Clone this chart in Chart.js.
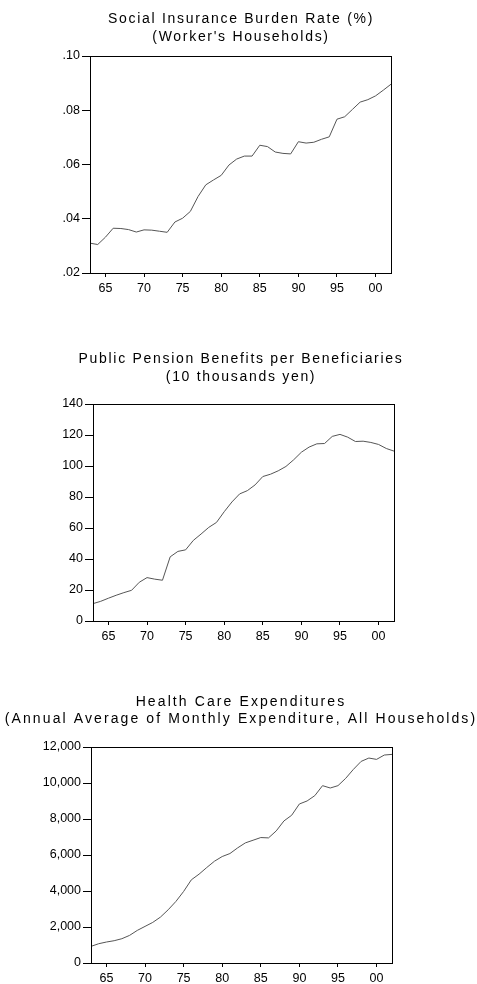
<!DOCTYPE html>
<html>
<head>
<meta charset="utf-8">
<script src="https://cdn.jsdelivr.net/npm/chart.js@4.4.1/dist/chart.umd.min.js"></script>
<style>
  html, body { margin: 0; padding: 0; background: #fff; }
  body { width: 477px; height: 984px; position: relative; overflow: hidden; }
  .panel { position: absolute; left: 0; width: 477px; }
  .panel canvas { display: block; }
</style>
</head>
<body>
<div class="panel" style="top:0px"><canvas id="chartBurden" width="477" height="300"></canvas></div>
<div class="panel" style="top:340px"><canvas id="chartPension" width="477" height="308"></canvas></div>
<div class="panel" style="top:680px"><canvas id="chartHealth" width="477" height="304"></canvas></div>
<script>
(function () {
    // ---------- data ----------
    const years = [1963, 1964, 1965, 1966, 1967, 1968, 1969, 1970, 1971, 1972,
                   1973, 1974, 1975, 1976, 1977, 1978, 1979, 1980, 1981, 1982,
                   1983, 1984, 1985, 1986, 1987, 1988, 1989, 1990, 1991, 1992,
                   1993, 1994, 1995, 1996, 1997, 1998, 1999, 2000, 2001, 2002];
    const yearTicks = [1965, 1970, 1975, 1980, 1985, 1990, 1995, 2000];

    const burdenRate = [.0310, .0305, .0332, .0365, .0364, .0360, .0351, .0359, .0358, .0354,
                        .0350, .0388, .0402, .0427, .0482, .0525, .0543, .0560, .0598, .0620,
                        .0631, .0631, .0671, .0666, .0646, .0641, .0639, .0684, .0679, .0682,
                        .0693, .0702, .0767, .0776, .0803, .0830, .0839, .0853, .0874, .0896];
    const burdenTicks = [0.02, 0.04, 0.06, 0.08, 0.10];

    const pensionBenefit = [11.2, 12.7, 14.7, 16.6, 18.3, 19.8, 25.0, 28.0, 27.0, 26.3,
                            41.4, 44.9, 45.9, 52.0, 56.1, 60.4, 63.6, 70.5, 76.8, 82.0,
                            84.1, 87.8, 93.2, 94.7, 96.9, 99.7, 104.0, 108.9, 112.2, 114.3,
                            114.5, 119.1, 120.4, 118.6, 115.8, 116.0, 115.2, 113.9, 111.3, 109.6];
    const pensionTicks = [0, 20, 40, 60, 80, 100, 120, 140];

    const healthExpend = [924, 1072, 1165, 1238, 1349, 1534, 1811, 2033, 2255, 2551,
                          2957, 3420, 3974, 4621, 4935, 5305, 5656, 5915, 6081, 6396,
                          6673, 6821, 6969, 6950, 7338, 7893, 8207, 8835, 9002, 9298,
                          9852, 9723, 9852, 10259, 10758, 11201, 11386, 11312, 11553, 11590];
    const healthTicks = [0, 2000, 4000, 6000, 8000, 10000, 12000];

    const FONT = "'Liberation Sans', Arial, sans-serif";

    // two-line title drawn with letter spacing, plus a frame round the plot
    const framePlugin = {
        id: 'frameTitle',
        afterDraw(chart, args, opts) {
            const { ctx, chartArea: a } = chart;
            ctx.save();
            ctx.strokeStyle = '#000';
            ctx.lineWidth = 1;
            ctx.strokeRect(Math.round(a.left) + 0.5, Math.round(a.top) + 0.5,
                           Math.round(a.right - a.left), Math.round(a.bottom - a.top));
            ctx.fillStyle = '#000';
            ctx.font = '14px ' + FONT;
            ctx.textAlign = 'center';
            ctx.textBaseline = 'middle';
            ctx.letterSpacing = opts.spacing + 'px';
            (opts.lines || []).forEach((t, i) => ctx.fillText(t, opts.x, opts.y[i]));
            ctx.restore();
        }
    };

    function makeChart(id, values, ticks, fmt, lay) {
        const ctx = document.getElementById(id);
        return new Chart(ctx, {
            type: 'line',
            data: {
                datasets: [{
                    data: years.map((y, i) => ({ x: y, y: values[i] })),
                    borderColor: '#555', borderWidth: 1, pointRadius: 0, tension: 0, fill: false
                }]
            },
            options: {
                responsive: false, animation: false,
                layout: { padding: { top: lay.top, left: 0, right: 0, bottom: 0 } },
                plugins: {
                    legend: { display: false }, tooltip: { enabled: false },
                    frameTitle: { lines: lay.title, x: 241, y: lay.titleY, spacing: lay.spacing }
                },
                scales: {
                    x: {
                        type: 'linear', min: years[0], max: years[years.length - 1],
                        afterBuildTicks: s => { s.ticks = yearTicks.map(v => ({ value: v })); },
                        afterFit: s => { s.height = lay.xh; },
                        grid: { drawOnChartArea: false, tickLength: 4, tickColor: '#000' },
                        border: { color: '#000' },
                        ticks: {
                            color: '#000', font: { family: FONT, size: 12.5 }, padding: 4,
                            maxRotation: 0, autoSkip: false,
                            callback: v => String(v % 100).padStart(2, '0')
                        }
                    },
                    y: {
                        min: ticks[0], max: ticks[ticks.length - 1],
                        afterBuildTicks: s => { s.ticks = ticks.map(v => ({ value: v })); },
                        afterFit: s => { s.width = lay.left; },
                        grid: { drawOnChartArea: false, tickLength: 8, tickColor: '#000' },
                        border: { color: '#000' },
                        ticks: { color: '#000', font: { family: FONT, size: 12.5 }, padding: 2, callback: fmt }
                    },
                    y2: {
                        position: 'right', min: 0, max: 1,
                        afterFit: s => { s.width = lay.right; },
                        grid: { drawOnChartArea: false, drawTicks: false },
                        border: { color: '#000' },
                        ticks: { display: false }
                    }
                }
            },
            plugins: [framePlugin]
        });
    }

    makeChart('chartBurden', burdenRate, burdenTicks,
        v => v.toFixed(2).replace(/^0/, ''),
        { top: 56, xh: 27, left: 90, right: 86, spacing: 1.7,
          title: ['Social Insurance Burden Rate (%)', "(Worker's Households)"], titleY: [19, 37.5] });

    makeChart('chartPension', pensionBenefit, pensionTicks,
        v => String(v),
        { top: 64, xh: 27, left: 93, right: 83, spacing: 1.7,
          title: ['Public Pension Benefits per Beneficiaries', '(10 thousands yen)'], titleY: [19, 37.5] });

    makeChart('chartHealth', healthExpend, healthTicks,
        v => v.toLocaleString('en-US'),
        { top: 67, xh: 21, left: 91, right: 85, spacing: 2.1,
          title: ['Health Care Expenditures', '(Annual Average of Monthly Expenditure, All Households)'], titleY: [22.5, 39.5] });
})();
</script>
</body>
</html>
